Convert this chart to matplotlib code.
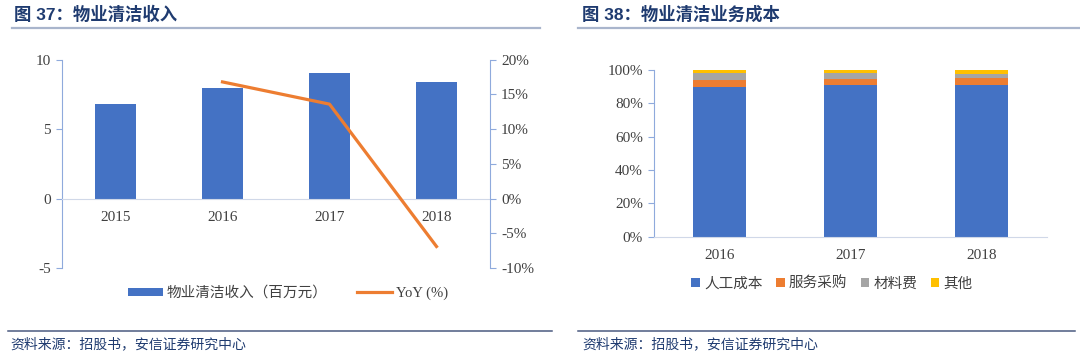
import numpy as np
import matplotlib
matplotlib.use('Agg')
import matplotlib.pyplot as plt
from matplotlib.patches import Patch
from matplotlib.lines import Line2D
from matplotlib.ticker import FuncFormatter, MultipleLocator

plt.rcParams['font.family'] = ['Liberation Serif', 'Noto Sans CJK SC', 'DejaVu Sans']
plt.rcParams['axes.unicode_minus'] = False

# data - left chart
years_l = ['2015', '2016', '2017', '2018']
revenue = [6.82, 7.94, 9.03, 8.41]          # 百万元
yoy = [16.8, 13.6, -6.9]                    # % for 2016-2018

# data - right chart
years_r = ['2016', '2017', '2018']
labor = [90.0, 90.9, 90.9]
service = [4.2, 3.9, 4.5]
material = [4.1, 3.5, 2.3]
other = [1.7, 1.7, 2.3]

blue = '#4472C4'
orange = '#ED7D31'
gray = '#A5A5A5'
yellow = '#FFC000'
spine_c = '#8FAADC'
zero_c = '#D0D8E8'
title_c = '#1F3B70'

fig = plt.figure(figsize=(10.8, 3.62), dpi=100)

# ---- titles and decoration lines
title_font = ['Liberation Sans', 'Noto Sans CJK SC']
fig.text(14 / 1080, 1 - 14 / 362, '图 37：物业清洁收入', family=title_font, fontsize=12.5,
         fontweight='bold', color=title_c, va='center', ha='left')
fig.text(582 / 1080, 1 - 14 / 362, '图 38：物业清洁业务成本', family=title_font, fontsize=12.5,
         fontweight='bold', color=title_c, va='center', ha='left')
for x0, x1 in [(12, 540), (578, 1080)]:
    fig.add_artist(Line2D([x0 / 1080, x1 / 1080], [1 - 28 / 362] * 2, color='#A9B5CC', lw=1.6))
for x0, x1 in [(8, 552), (578, 1075)]:
    fig.add_artist(Line2D([x0 / 1080, x1 / 1080], [1 - 331 / 362] * 2, color='#4A5A80', lw=1.1))
src_font = ['Noto Sans CJK SC']
fig.text(10 / 1080, 1 - 344 / 362, '资料来源：招股书，安信证券研究中心', family=src_font, fontsize=10,
         style='italic', color=title_c, va='center', ha='left')
fig.text(582 / 1080, 1 - 344 / 362, '资料来源：招股书，安信证券研究中心', family=src_font, fontsize=10,
         style='italic', color=title_c, va='center', ha='left')

# ---- left chart
ax = fig.add_axes([62 / 1080, 1 - 268 / 362, 428 / 1080, (268 - 59.7) / 362])
x = np.arange(len(years_l))
ax.bar(x, revenue, width=0.39, color=blue, zorder=2)
ax.set_xlim(-0.5, len(years_l) - 0.5)
ax.set_ylim(-5, 10)
ax.yaxis.set_major_locator(MultipleLocator(5))
ax.set_xticks(x)
ax.set_xticklabels(years_l)
ax.spines['top'].set_visible(False)
ax.spines['right'].set_visible(False)
ax.spines['left'].set_color(spine_c)
ax.spines['bottom'].set_position(('data', 0))
ax.spines['bottom'].set_color(zero_c)
ax.tick_params(axis='x', length=0, pad=9, labelsize=11, colors='#404040')
ax.tick_params(axis='y', length=4, color=spine_c, labelsize=11, labelcolor='#404040', pad=4)

ax2 = ax.twinx()
ax2.plot(x[1:], yoy, color=orange, lw=2.3, zorder=3)
ax2.set_ylim(-10, 20)
ax2.yaxis.set_major_locator(MultipleLocator(5))
ax2.yaxis.set_major_formatter(FuncFormatter(lambda v, p: f'{v:.0f}%'))
for s in ['top', 'left', 'bottom']:
    ax2.spines[s].set_visible(False)
ax2.spines['right'].set_color(spine_c)
ax2.tick_params(axis='y', length=4, color=spine_c, labelsize=11, labelcolor='#404040', pad=4)

handles_l = [Patch(facecolor=blue, edgecolor='none'), Line2D([], [], color=orange, lw=2.3)]
fig.legend(handles_l, ['物业清洁收入（百万元）', 'YoY (%)'], loc='center',
           bbox_to_anchor=(288 / 1080, 1 - 293 / 362), ncol=2, frameon=False, fontsize=10.5,
           handlelength=2.4, handleheight=0.45, handletextpad=0.3, columnspacing=2.0,
           labelcolor='#404040')

# ---- right chart
ar = fig.add_axes([654 / 1080, 1 - 236.5 / 362, 393 / 1080, 166.5 / 362])
xr = np.arange(len(years_r))
bottom = np.zeros(len(years_r))
for vals, c, lab in [(labor, blue, '人工成本'), (service, orange, '服务采购'),
                     (material, gray, '材料费'), (other, yellow, '其他')]:
    ar.bar(xr, vals, bottom=bottom, width=0.4, color=c, label=lab, zorder=2)
    bottom += np.array(vals)
ar.set_xlim(-0.5, len(years_r) - 0.5)
ar.set_ylim(0, 100)
ar.yaxis.set_major_locator(MultipleLocator(20))
ar.yaxis.set_major_formatter(FuncFormatter(lambda v, p: f'{v:.0f}%'))
ar.set_xticks(xr)
ar.set_xticklabels(years_r)
ar.spines['top'].set_visible(False)
ar.spines['right'].set_visible(False)
ar.spines['left'].set_color(spine_c)
ar.spines['bottom'].set_color(zero_c)
ar.tick_params(axis='x', length=0, pad=9, labelsize=11, colors='#404040')
ar.tick_params(axis='y', length=4, color=spine_c, labelsize=11, labelcolor='#404040', pad=4)

h, l = ar.get_legend_handles_labels()
fig.legend(h, l, loc='center', bbox_to_anchor=(832 / 1080, 1 - 284 / 362), ncol=4,
           frameon=False, fontsize=10.5, handlelength=0.6, handleheight=0.6,
           handletextpad=0.3, columnspacing=0.9, labelcolor='#404040')

fig.savefig('out.png', dpi=100)
